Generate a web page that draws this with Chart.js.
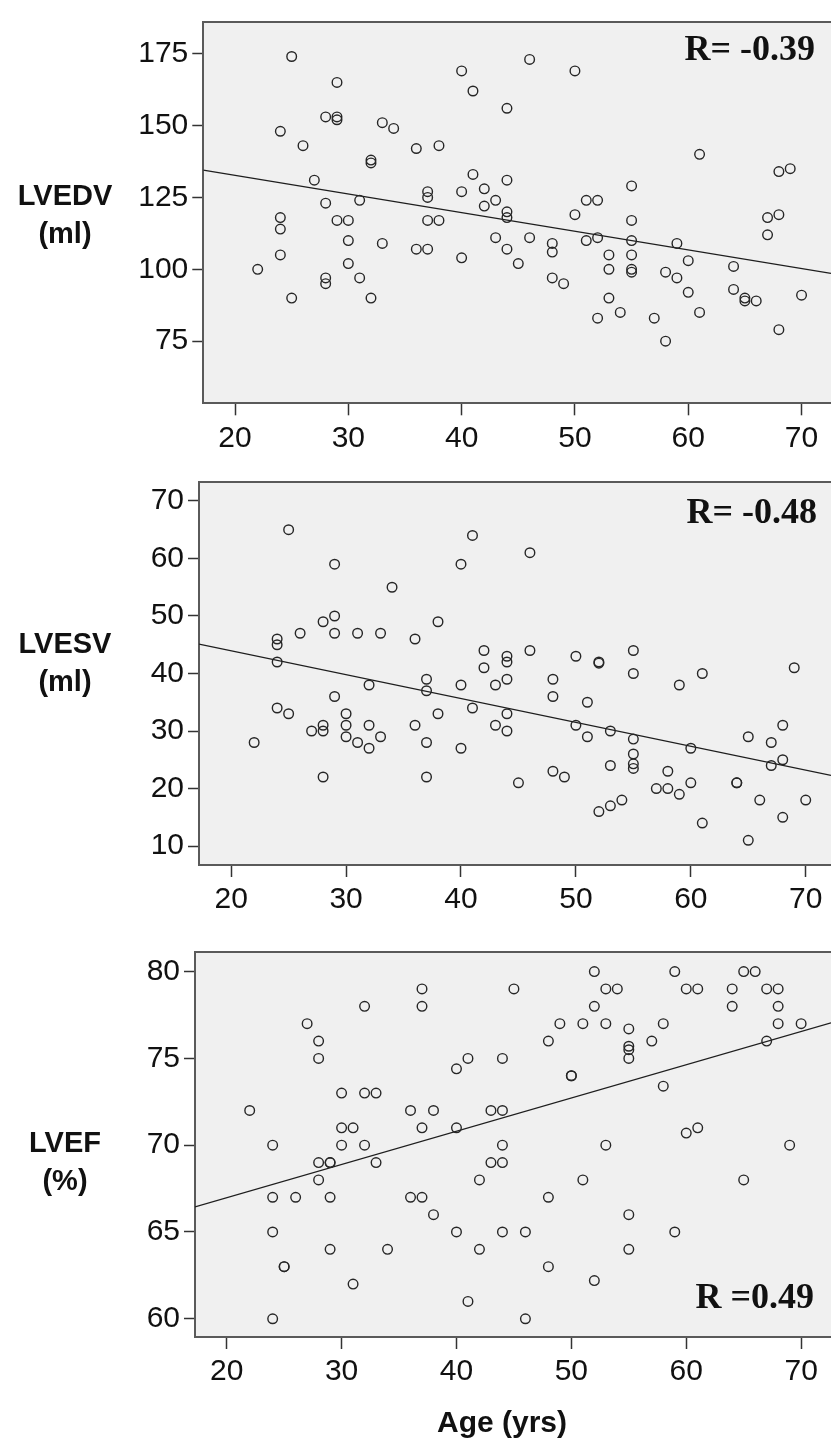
<!DOCTYPE html>
<html>
<head>
<meta charset="utf-8">
<title>LV volumes and ejection fraction by age</title>
<script src="https://cdn.jsdelivr.net/npm/chart.js@4.4.1/dist/chart.umd.min.js"></script>
<style>
  html, body { margin: 0; padding: 0; background: #fff; }
  body { position: relative; width: 831px; height: 1445px; overflow: hidden; }
  canvas { position: absolute; left: 0; }
</style>
</head>
<body>
<canvas id="chartLvedv" width="831" height="460" style="top:0px"></canvas>
<canvas id="chartLvesv" width="831" height="460" style="top:460px"></canvas>
<canvas id="chartLvef" width="831" height="515" style="top:930px"></canvas>
<script>
/* =========================================================
   DATA
========================================================= */
const ageTicks = [20, 30, 40, 50, 60, 70];

// LVEDV (ml)
const lvedvAge = [25, 29, 28, 29, 29, 24, 26, 33, 34, 36, 32, 32, 27, 28, 31, 24, 24, 29, 30, 30,
    33, 36, 37, 24, 22, 30, 28, 28, 31, 25, 32,
    40, 41, 46, 50, 44, 38, 41, 44, 37, 37, 40, 42, 43, 42, 44, 44, 37, 38, 50, 51,
    52, 55, 43, 46, 44, 45, 40, 48, 48, 51, 52, 53, 53, 48, 49, 53, 52, 54,
    55, 55, 55, 55, 55, 61, 59, 60, 58, 59, 60, 57, 61, 58, 64, 64, 65, 65, 66, 67,
    67, 68, 69, 68, 70, 68];
const lvedvVal = [174, 165, 153, 153, 152, 148, 143, 151, 149, 142, 138, 137, 131, 123, 124, 118, 114, 117, 117, 110,
    109, 107, 107, 105, 100, 102, 97, 95, 97, 90, 90,
    169, 162, 173, 169, 156, 143, 133, 131, 127, 125, 127, 128, 124, 122, 120, 118, 117, 117, 119, 124,
    124, 129, 111, 111, 107, 102, 104, 109, 106, 110, 111, 105, 100, 97, 95, 90, 83, 85,
    117, 110, 105, 100, 99, 140, 109, 103, 99, 97, 92, 83, 85, 75, 101, 93, 90, 89, 89, 118,
    112, 134, 135, 119, 91, 79];
const lvedvTicks = [75, 100, 125, 150, 175];
const lvedvFitAge = [17.2, 72.6];
const lvedvFitVal = [134.5, 98.6];

// LVESV (ml)
const lvesvAge = [25, 29, 34, 29, 28, 26, 29, 31, 33, 36, 24, 24, 24, 32, 29, 24, 25, 30, 28, 28,
    27, 30, 32, 36, 30, 31, 32, 33, 22, 28,
    41, 40, 46, 38, 42, 44, 44, 46, 50, 52, 52, 42, 44, 37, 37, 40, 43, 48, 48, 51,
    38, 41, 44, 43, 44, 50, 51, 53, 37, 40, 37, 45, 48, 49, 53, 52, 53, 54,
    55, 55, 55, 55, 55, 55, 59, 61, 69, 60, 58, 57, 58, 59, 60, 61, 64, 64, 65, 67,
    68, 67, 68, 66, 70, 68, 65];
const lvesvVal = [65, 59, 55, 50, 49, 47, 47, 47, 47, 46, 46, 45, 42, 38, 36, 34, 33, 33, 31, 30,
    30, 31, 31, 31, 29, 28, 27, 29, 28, 22,
    64, 59, 61, 49, 44, 43, 42, 44, 43, 42, 41.8, 41, 39, 39, 37, 38, 38, 39, 36, 35,
    33, 34, 33, 31, 30, 31, 29, 30, 28, 27, 22, 21, 23, 22, 24, 16, 17, 18,
    44, 40, 28.6, 26, 24.3, 23.5, 38, 40, 41, 27, 23, 20, 20, 19, 21, 14, 21, 21, 29, 28,
    31, 24, 25, 18, 18, 15, 11];
const lvesvTicks = [10, 20, 30, 40, 50, 60, 70];
const lvesvFitAge = [17.2, 72.2];
const lvesvFitVal = [45.1, 22.3];

// LVEF (%)
const lvefAge = [32, 27, 28, 28, 22, 30, 32, 33, 36, 30, 31, 24, 30, 32, 28, 29, 29, 33, 28, 24,
    26, 29, 36, 24, 29, 34, 25, 25, 31, 24,
    37, 37, 45, 52, 53, 54, 52, 49, 51, 53, 55, 48, 55, 55, 55, 41, 40, 44, 50, 50,
    38, 43, 44, 37, 40, 44, 43, 44, 42, 51, 53, 37, 48, 38, 40, 44, 46, 42, 48, 52,
    41, 46, 55, 55,
    59, 65, 66, 60, 61, 64, 67, 68, 64, 68, 58, 68, 70, 57, 67, 58, 60, 61, 69, 65, 59];
const lvefVal = [78, 77, 76, 75, 72, 73, 73, 73, 72, 71, 71, 70, 70, 70, 69, 69, 69, 69, 68, 67,
    67, 67, 67, 65, 64, 64, 63, 63, 62, 60,
    79, 78, 79, 80, 79, 79, 78, 77, 77, 77, 76.7, 76, 75.7, 75.5, 75, 75, 74.4, 75, 74, 74,
    72, 72, 72, 71, 71, 70, 69, 69, 68, 68, 70, 67, 67, 66, 65, 65, 65, 64, 63, 62.2,
    61, 60, 66, 64,
    80, 80, 80, 79, 79, 79, 79, 79, 78, 78, 77, 77, 77, 76, 76, 73.4, 70.7, 71, 70, 68, 65];
const lvefTicks = [60, 65, 70, 75, 80];
const lvefFitAge = [17.24, 72.6];
const lvefFitVal = [66.45, 77.05];


/* =========================================================
   PANEL FRAME + TEXT PLUGIN
========================================================= */
const SANS = '"Liberation Sans", Arial, sans-serif';
const SERIF = '"Liberation Serif", "Times New Roman", serif';

const panelFrame = {
    id: 'panelFrame',
    beforeDraw(chart) {
        const { ctx, chartArea: a } = chart;
        ctx.save();
        ctx.fillStyle = '#f0f0f0';
        ctx.fillRect(a.left, a.top, a.right - a.left, a.bottom - a.top);
        ctx.restore();
    },
    afterDraw(chart, args, opts) {
        const { ctx, chartArea: a } = chart;
        ctx.save();
        // top edge of the box (left/bottom come from the axis borders)
        ctx.strokeStyle = '#5a5a5a';
        ctx.lineWidth = 2;
        ctx.beginPath();
        ctx.moveTo(a.left, a.top);
        ctx.lineTo(a.right, a.top);
        ctx.stroke();

        ctx.fillStyle = '#111';
        ctx.textBaseline = 'alphabetic';

        // horizontal y-axis title, two lines
        ctx.font = 'bold 29px ' + SANS;
        ctx.textAlign = 'center';
        opts.title.forEach((line, i) => ctx.fillText(line, 65, opts.titleY + i * 38));

        // correlation coefficient
        ctx.font = 'bold 36px ' + SERIF;
        ctx.textAlign = 'right';
        ctx.fillText(opts.rText, opts.rX, opts.rY);

        if (opts.xTitle) {
            ctx.font = 'bold 30px ' + SANS;
            ctx.textAlign = 'center';
            ctx.fillText(opts.xTitle, 502, opts.xTitleY);
        }
        ctx.restore();
    }
};


/* =========================================================
   CHART BUILDER
========================================================= */
function toPoints(xs, ys) {
    return xs.map((x, i) => ({ x: x, y: ys[i] }));
}

function makePanel(id, p) {
    new Chart(document.getElementById(id), {
        type: 'scatter',
        data: {
            datasets: [{
                data: toPoints(p.ages, p.values),
                pointRadius: 4.8,
                pointHoverRadius: 4.8,
                pointBorderWidth: 1.4,
                pointBorderColor: '#262626',
                pointBackgroundColor: 'rgba(0,0,0,0)'
            }, {
                type: 'line',
                data: toPoints(p.fitAges, p.fitValues),
                borderColor: '#1e1e1e',
                borderWidth: 1.2,
                pointRadius: 0,
                fill: false
            }]
        },
        options: {
            responsive: false,
            animation: false,
            events: [],
            layout: {
                autoPadding: false,
                padding: { top: p.top, right: 0, bottom: 0, left: 0 }
            },
            plugins: {
                legend: { display: false },
                tooltip: { enabled: false },
                panelFrame: p.text
            },
            scales: {
                x: {
                    type: 'linear',
                    min: p.xRange[0],
                    max: p.xRange[1],
                    afterBuildTicks: s => { s.ticks = ageTicks.map(v => ({ value: v })); },
                    afterFit: s => { s.height = p.xAxisHeight; },
                    border: { display: true, color: '#5a5a5a', width: 2 },
                    grid: {
                        drawOnChartArea: false,
                        tickLength: 12,
                        tickColor: '#333',
                        tickWidth: 1.5
                    },
                    ticks: { color: '#111', padding: 5, font: { family: SANS, size: 30 } }
                },
                y: {
                    type: 'linear',
                    min: p.yRange[0],
                    max: p.yRange[1],
                    afterBuildTicks: s => { s.ticks = p.yTicks.map(v => ({ value: v })); },
                    afterFit: s => { s.width = p.left; },
                    border: { display: true, color: '#5a5a5a', width: 2 },
                    grid: {
                        drawOnChartArea: false,
                        tickLength: 11,
                        tickColor: '#333',
                        tickWidth: 1.5
                    },
                    ticks: { color: '#111', padding: 4, font: { family: SANS, size: 30 } }
                }
            }
        },
        plugins: [panelFrame]
    });
}


/* =========================================================
   THE THREE PANELS
========================================================= */
makePanel('chartLvedv', {
    ages: lvedvAge, values: lvedvVal,
    fitAges: lvedvFitAge, fitValues: lvedvFitVal,
    yTicks: lvedvTicks,
    xRange: [17.2, 72.6], yRange: [53.4, 186],
    top: 10.7, left: 203.3, xAxisHeight: 56.7,
    text: { title: ['LVEDV', '(ml)'], titleY: 205, rText: 'R= -0.39', rX: 815, rY: 60 }
});

makePanel('chartLvesv', {
    ages: lvesvAge, values: lvesvVal,
    fitAges: lvesvFitAge, fitValues: lvesvFitVal,
    yTicks: lvesvTicks,
    xRange: [17.2, 72.2], yRange: [6.7, 73.3],
    top: 12.7, left: 199, xAxisHeight: 55,
    text: { title: ['LVESV', '(ml)'], titleY: 193, rText: 'R= -0.48', rX: 817, rY: 63 }
});

makePanel('chartLvef', {
    ages: lvefAge, values: lvefVal,
    fitAges: lvefFitAge, fitValues: lvefFitVal,
    yTicks: lvefTicks,
    xRange: [17.24, 72.6], yRange: [58.95, 81.13],
    top: 14.3, left: 195, xAxisHeight: 108,
    text: { title: ['LVEF', '(%)'], titleY: 222, rText: 'R =0.49', rX: 814, rY: 378,
            xTitle: 'Age (yrs)', xTitleY: 501.5 }
});
</script>
</body>
</html>
